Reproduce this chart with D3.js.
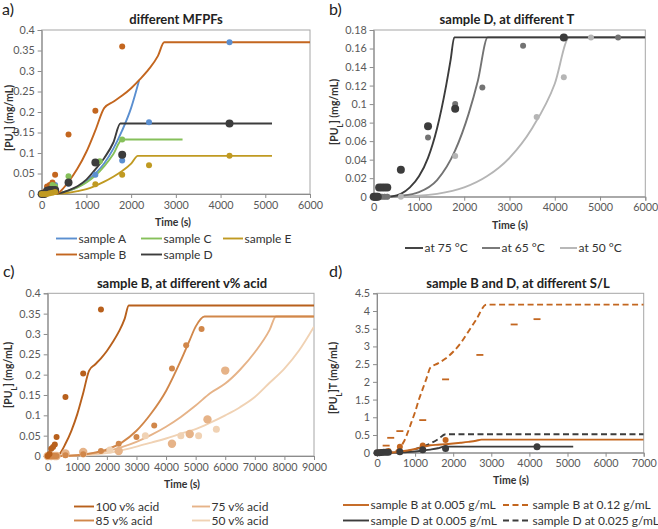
<!DOCTYPE html>
<html><head><meta charset="utf-8">
<script src="https://cdn.jsdelivr.net/npm/d3@7"></script>
<style>
html,body{margin:0;padding:0;background:#fff;}
svg{display:block;font-family:Lato,"Open Sans",sans-serif;}
</style></head>
<body>
<svg id="chart" width="658" height="529"></svg>
<script>
// ---------- DATA ----------
// panel a: different MFPFs (model lines)
const aLineA_t = [0,200,400,600,800,1000,1200,1400,1600,1800,2000,2180];
const aLineA_v = [0,0,0.002,0.008,0.017,0.03,0.05,0.075,0.11,0.155,0.21,0.278];
const aLineB_t = [0,200,300,400,600,800,1000,1200,1400,1600,1800,2000,2200,2400,2600,2740,6000];
const aLineB_v = [0,0,0,0.005,0.03,0.062,0.103,0.155,0.21,0.225,0.24,0.258,0.28,0.305,0.337,0.37,0.37];
const aLineC_t = [0,200,400,600,800,1000,1200,1400,1600,1800,3150];
const aLineC_v = [0,0,0.002,0.008,0.016,0.028,0.045,0.068,0.097,0.133,0.133];
const aLineD_t = [0,200,400,600,800,1000,1200,1400,1600,1760,5150];
const aLineD_v = [0,0,0.002,0.009,0.019,0.035,0.06,0.088,0.125,0.172,0.172];
const aLineE_t = [0,200,400,600,800,1000,1200,1400,1600,1800,2000,2150,5150];
const aLineE_v = [0,0,0.001,0.003,0.007,0.012,0.02,0.03,0.042,0.056,0.074,0.093,0.093];
// panel a: measured points
const aPtsA_t = [0,60,120,180,240,300,600,1200,1800,2400,4200];
const aPtsA_v = [0,0.002,0.008,0.015,0.02,0.022,0.025,0.047,0.082,0.175,0.37];
const aPtsB_t = [0,60,120,180,240,300,600,1200,1800];
const aPtsB_v = [0,0.005,0.018,0.022,0.028,0.047,0.145,0.203,0.36];
const aPtsC_t = [0,60,120,180,240,300,600,1300,1800];
const aPtsC_v = [0,0.001,0.005,0.01,0.022,0.018,0.043,0.08,0.133];
const aPtsD_t = [0,60,120,180,240,300,600,1200,1800,4200];
const aPtsD_v = [0,0,0.008,0.01,0.01,0.01,0.028,0.077,0.096,0.172];
const aPtsE_t = [0,60,120,180,240,300,1200,1800,2400,4200];
const aPtsE_v = [0,0,0,0.002,0.003,0.005,0.024,0.047,0.07,0.093];
const aSeries = ["sample A","sample B","sample C","sample D","sample E"];

// panel b: sample D at different T
const bLine75_t = [0,300,400,600,800,1000,1200,1400,1600,1700,1780,6000];
const bLine75_v = [0,0,0.0003,0.003,0.01,0.022,0.042,0.074,0.12,0.148,0.172,0.172];
const bLine65_t = [0,300,600,1000,1400,1800,2100,2300,2520,6000];
const bLine65_v = [0,0,0.001,0.005,0.018,0.05,0.09,0.125,0.172,0.172];
const bLine50_t = [0,300,1000,1400,2000,2500,3000,3500,4000,4320,6000];
const bLine50_v = [0,0,0.001,0.003,0.01,0.022,0.042,0.074,0.122,0.172,0.172];
const bPts75_t = [0,30,60,90,120,180,240,300,600,1200,1800,4200];
const bPts75_v = [0,0,0,0,0.01,0.01,0.01,0.01,0.029,0.076,0.095,0.172];
const bPts65_t = [0,60,120,180,240,300,1200,1800,2400,3300,5400];
const bPts65_v = [0,0,0,0,0,0,0.064,0.1,0.118,0.163,0.172];
const bPts50_t = [0,60,120,180,240,300,600,1800,3600,4200,4800];
const bPts50_v = [0,0,0,0,0,0,0,0.044,0.086,0.129,0.172];
const bSeries = ["at 75 °C","at 65 °C","at 50 °C"];

// panel c: sample B at different v% acid
const cLine100_t = [0,200,300,400,600,800,1000,1200,1400,1600,1800,2000,2200,2400,2600,2740,9000];
const cLine100_v = [0,0,0,0.005,0.03,0.062,0.103,0.155,0.21,0.225,0.24,0.258,0.28,0.305,0.337,0.37,0.37];
const cLine85_t = [0,500,1000,1500,2000,2500,3000,3500,4000,4500,4800,5000,5300,9000];
const cLine85_v = [0,0,0.002,0.007,0.016,0.033,0.062,0.105,0.16,0.235,0.285,0.318,0.343,0.343];
const cLine75_t = [0,500,1000,1500,2000,2500,3000,3500,4000,4500,5000,5500,6000,6500,7000,7500,7715,9000];
const cLine75_v = [0,0,0.002,0.006,0.012,0.022,0.035,0.052,0.072,0.096,0.124,0.155,0.178,0.212,0.255,0.31,0.343,0.343];
const cLine50_t = [0,500,1000,1500,2000,2500,3000,3500,4000,4500,5000,5500,6000,6500,7000,7500,8000,8500,9000];
const cLine50_v = [0,0,0.001,0.003,0.007,0.014,0.023,0.033,0.043,0.055,0.066,0.082,0.1,0.12,0.145,0.18,0.215,0.26,0.318];
const cPts100_t = [0,60,120,180,240,300,600,1200,1800];
const cPts100_v = [0,0.005,0.018,0.022,0.028,0.047,0.145,0.203,0.36];
const cPts85_t = [0,60,120,180,240,300,600,1200,1800,2400,3000,3600,4200,4680,5200];
const cPts85_v = [0,0,0,0,0,0,0.002,0.004,0.012,0.03,0.047,0.075,0.215,0.272,0.312];
const cPts75_t = [0,120,240,300,600,1200,2400,4200,4800,5400,6000];
const cPts75_v = [0,0,0,0,0.006,0.01,0.012,0.03,0.054,0.09,0.21];
const cPts50_t = [0,120,240,300,600,1200,2100,3300,4500,5100,5700];
const cPts50_v = [0,0,0,0,0.003,0.005,0.015,0.05,0.05,0.05,0.066];
const cSeries = ["100 v% acid","85 v% acid","75 v% acid","50 v% acid"];

// panel d: sample B and D at different S/L
const dLineB005_t = [0,200,300,400,600,800,1000,1200,1400,1600,1800,2000,2200,2400,2600,2740,7000];
const dLineB005_v = [0,0,0,0.005,0.03,0.062,0.103,0.155,0.21,0.225,0.24,0.258,0.28,0.305,0.337,0.37,0.37];
const dLineB012_t = [0,300,500,600,700,800,900,1000,1100,1200,1300,1400,1600,1800,2000,2200,2400,2600,2870,7000];
const dLineB012_v = [0,0,0.05,0.15,0.3,0.55,0.85,1.15,1.5,1.8,2.1,2.4,2.52,2.66,2.85,3.1,3.42,3.75,4.18,4.18];
const dLineD005_t = [0,200,400,600,800,1000,1200,1400,1600,1760,5150];
const dLineD005_v = [0,0,0.002,0.009,0.019,0.035,0.06,0.088,0.125,0.172,0.172];
const dLineD025_t = [0,300,600,800,1000,1200,1400,1600,1800,7000];
const dLineD025_v = [0,0,0.02,0.05,0.1,0.17,0.26,0.38,0.52,0.52];
const dPtsB005_t = [0,60,120,180,240,300,600,1200,1800];
const dPtsB005_v = [0,0.005,0.018,0.022,0.028,0.047,0.17,0.2,0.36];
const dPtsD005_t = [0,60,120,180,240,300,600,1200,1800,4200];
const dPtsD005_v = [0,0,0.008,0.01,0.01,0.01,0.03,0.08,0.12,0.17];
const dPtsB012_t = [240,360,600,1200,1800,2700,3600,4200];
const dPtsB012_v = [0.2,0.42,0.61,0.92,2.07,2.76,3.62,3.77];
const dSeries = ["sample B at 0.005 g/mL","sample B at 0.12 g/mL","sample D at 0.005 g/mL","sample D at 0.025 g/mL"];

// tick values
const ticksA_x = [0,1000,2000,3000,4000,5000,6000];
const ticksA_y = [0,0.05,0.1,0.15,0.2,0.25,0.3,0.35,0.4];
const ticksB_y = [0,0.02,0.04,0.06,0.08,0.1,0.12,0.14,0.16,0.18];
const ticksC_x = [0,1000,2000,3000,4000,5000,6000,7000,8000,9000];
const ticksD_x = [0,1000,2000,3000,4000,5000,6000,7000];
const ticksD_y = [0,0.5,1,1.5,2,2.5,3,3.5,4,4.5];

// ---------- STYLE ----------
const COL = {A:"#5b8fd0", B:"#c3661f", C:"#86c05a", D:"#3c3c3c", E:"#c09a22",
  t75:"#3c3c3c", t65:"#737373", t50:"#b5b5b5",
  c100:"#b8601c", c85:"#d1874a", c75:"#e6b388", c50:"#f0d2b4"};
const zip = (t,v) => t.map((d,i)=>[d,v[i]]);

const svg = d3.select("#chart");

function panel(o){
  const g = svg.append("g");
  const x = d3.scaleLinear().domain([0,o.xMax]).range([o.left,o.right]);
  const y = d3.scaleLinear().domain([0,o.yMax]).range([o.bottom,o.top]);
  g.append("rect").attr("x",o.left).attr("y",o.top).attr("width",o.right-o.left).attr("height",o.bottom-o.top)
    .attr("fill","none").attr("stroke","#a6a6a6").attr("stroke-width",1);
  const fmt = d => String(+d.toFixed(3));
  const xa = g.append("g").attr("transform",`translate(0,${o.bottom})`)
    .call(d3.axisBottom(x).tickValues(o.xTicks).tickFormat(fmt).tickSize(4).tickPadding(3));
  const ya = g.append("g").attr("transform",`translate(${o.left},0)`)
    .call(d3.axisLeft(y).tickValues(o.yTicks).tickFormat(fmt).tickSize(4).tickPadding(3));
  [xa,ya].forEach(a=>{
    a.select(".domain").attr("stroke","#8c8c8c");
    a.selectAll(".tick line").attr("stroke","#8c8c8c");
    a.selectAll(".tick text").attr("fill","#595959").style("font-size","10.8px").style("font-family","Lato,sans-serif");
  });
  g.append("text").attr("x",o.letterX).attr("y",o.letterY).text(o.letter)
    .style("font-size","16px").attr("fill","#222");
  g.append("text").attr("x",o.titleX).attr("y",o.titleY).attr("text-anchor","middle").text(o.title)
    .style("font-size","13px").style("font-weight","bold").attr("fill","#222");
  g.append("text").attr("x",o.xtX).attr("y",o.xtY).attr("text-anchor","middle").text("Time (s)")
    .style("font-size","10.5px").style("font-weight","bold").attr("fill","#333");
  const yt = g.append("text").attr("transform",`translate(${o.ytX},${o.ytY}) rotate(-90)`)
    .attr("text-anchor","middle").style("font-size","10.5px").style("font-weight","bold").attr("fill","#333");
  yt.append("tspan").text("[PU");
  yt.append("tspan").text("L").attr("baseline-shift","sub").style("font-size","7.5px");
  yt.append("tspan").text(o.ytSuffix);
  const clip = "clip"+o.letter.replace(")","");
  svg.append("clipPath").attr("id",clip).append("rect")
    .attr("x",o.left).attr("y",o.top-3).attr("width",o.right-o.left).attr("height",o.bottom-o.top+6);
  const plot = g.append("g").attr("clip-path",`url(#${clip})`);
  return {g,x,y,plot};
}

function line(p, data, color, dash){
  p.plot.append("path").datum(data)
    .attr("d", d3.line().curve(d3.curveMonotoneX).x(d=>p.x(d[0])).y(d=>p.y(d[1])))
    .attr("fill","none").attr("stroke",color).attr("stroke-width",1.9)
    .attr("stroke-dasharray", dash||null);
}
function dots(p, data, color, r){
  p.g.selectAll(null).data(data).enter().append("circle")
    .attr("cx",d=>p.x(d[0])).attr("cy",d=>p.y(d[1])).attr("r",r).attr("fill",color);
}
function dashes(p, data, color){
  p.g.selectAll(null).data(data).enter().append("line")
    .attr("x1",d=>p.x(d[0])-3.5).attr("x2",d=>p.x(d[0])+3.5)
    .attr("y1",d=>p.y(d[1])).attr("y2",d=>p.y(d[1]))
    .attr("stroke",color).attr("stroke-width",1.8);
}
function legendItem(x1,x2,y,label,color,dash){
  svg.append("line").attr("x1",x1).attr("x2",x2).attr("y1",y).attr("y2",y)
    .attr("stroke",color).attr("stroke-width",1.9).attr("stroke-dasharray",dash||null);
  svg.append("text").attr("x",x2+1.5).attr("y",y+4).text(label)
    .style("font-size","12px").attr("fill","#333");
}

// ---------- PANEL A ----------
const pa = panel({left:41.7,right:310,top:30,bottom:194,xMax:6000,yMax:0.4,xTicks:ticksA_x,yTicks:ticksA_y,
  letter:"a)",letterX:2,letterY:15,title:"different MFPFs",titleX:176,titleY:24,
  xtX:173,xtY:226,ytX:13,ytY:118,ytSuffix:"] (mg/mL)"});
line(pa, zip(aLineA_t,aLineA_v), COL.A);
line(pa, zip(aLineC_t,aLineC_v), COL.C);
line(pa, zip(aLineE_t,aLineE_v), COL.E);
line(pa, zip(aLineD_t,aLineD_v), COL.D);
line(pa, zip(aLineB_t,aLineB_v), COL.B);
dots(pa, zip(aPtsA_t,aPtsA_v), COL.A, 3);
dots(pa, zip(aPtsB_t,aPtsB_v), COL.B, 3);
dots(pa, zip(aPtsC_t,aPtsC_v), COL.C, 3);
dots(pa, zip(aPtsD_t,aPtsD_v), COL.D, 4);
dots(pa, zip(aPtsE_t,aPtsE_v), COL.E, 3);
legendItem(56,77,238.5,aSeries[0],COL.A);
legendItem(141,162,238.5,aSeries[2],COL.C);
legendItem(223,243,238.5,aSeries[4],COL.E);
legendItem(56,77,254.5,aSeries[1],COL.B);
legendItem(141,162,254.5,aSeries[3],COL.D);

// ---------- PANEL B ----------
const pb = panel({left:373.7,right:645.3,top:30,bottom:196.7,xMax:6000,yMax:0.18,xTicks:ticksA_x,yTicks:ticksB_y,
  letter:"b)",letterX:329,letterY:15,title:"sample D, at different T",titleX:507,titleY:24,
  xtX:510,xtY:229,ytX:338,ytY:112,ytSuffix:"] (mg/mL)"});
line(pb, zip(bLine50_t,bLine50_v), COL.t50);
line(pb, zip(bLine65_t,bLine65_v), COL.t65);
line(pb, zip(bLine75_t,bLine75_v), COL.t75);
dots(pb, zip(bPts50_t,bPts50_v), COL.t50, 3);
dots(pb, zip(bPts65_t,bPts65_v), COL.t65, 3);
dots(pb, zip(bPts75_t,bPts75_v), COL.t75, 4);
legendItem(405,423,248,bSeries[0],COL.t75);
legendItem(482,500,248,bSeries[1],COL.t65);
legendItem(560,577,248,bSeries[2],COL.t50);

// ---------- PANEL C ----------
const pc = panel({left:47.7,right:314,top:293.3,bottom:456,xMax:9000,yMax:0.4,xTicks:ticksC_x,yTicks:ticksA_y,
  letter:"c)",letterX:3,letterY:277,title:"sample B, at different v% acid",titleX:182,titleY:288,
  xtX:182,xtY:488,ytX:12,ytY:375,ytSuffix:"] (mg/mL)"});
line(pc, zip(cLine50_t,cLine50_v), COL.c50);
line(pc, zip(cLine75_t,cLine75_v), COL.c75);
line(pc, zip(cLine85_t,cLine85_v), COL.c85);
line(pc, zip(cLine100_t,cLine100_v), COL.c100);
dots(pc, zip(cPts50_t,cPts50_v), COL.c50, 3.5);
dots(pc, zip(cPts75_t,cPts75_v), COL.c75, 4.2);
dots(pc, zip(cPts85_t,cPts85_v), COL.c85, 3);
dots(pc, zip(cPts100_t,cPts100_v), COL.c100, 3);
legendItem(74,94,506.5,cSeries[0],COL.c100);
legendItem(192,210,506.5,cSeries[2],COL.c75);
legendItem(74,94,520.5,cSeries[1],COL.c85);
legendItem(192,210,520.5,cSeries[3],COL.c50);

// ---------- PANEL D ----------
const pd = panel({left:377,right:643.7,top:293.3,bottom:452.7,xMax:7000,yMax:4.5,xTicks:ticksD_x,yTicks:ticksD_y,
  letter:"d)",letterX:329,letterY:277,title:"sample B and D, at different S/L",titleX:518,titleY:288,
  xtX:511,xtY:484,ytX:337,ytY:378,ytSuffix:"]T (mg/mL)"});
line(pd, zip(dLineD005_t,dLineD005_v), COL.D);
line(pd, zip(dLineD025_t,dLineD025_v), COL.D, "6,3.5");
line(pd, zip(dLineB005_t,dLineB005_v), COL.B);
line(pd, zip(dLineB012_t,dLineB012_v), COL.B, "6,3.5");
dots(pd, zip(dPtsB005_t,dPtsB005_v), COL.B, 3);
dots(pd, zip(dPtsD005_t,dPtsD005_v), COL.D, 3.5);
dashes(pd, zip(dPtsB012_t,dPtsB012_v), COL.B);
legendItem(343,369,505,dSeries[0],COL.B);
legendItem(503,531,505,dSeries[1],COL.B,"6,3.5");
legendItem(343,369,520.5,dSeries[2],COL.D);
legendItem(503,531,520.5,dSeries[3],COL.D,"6,3.5");
</script>
</body></html>
